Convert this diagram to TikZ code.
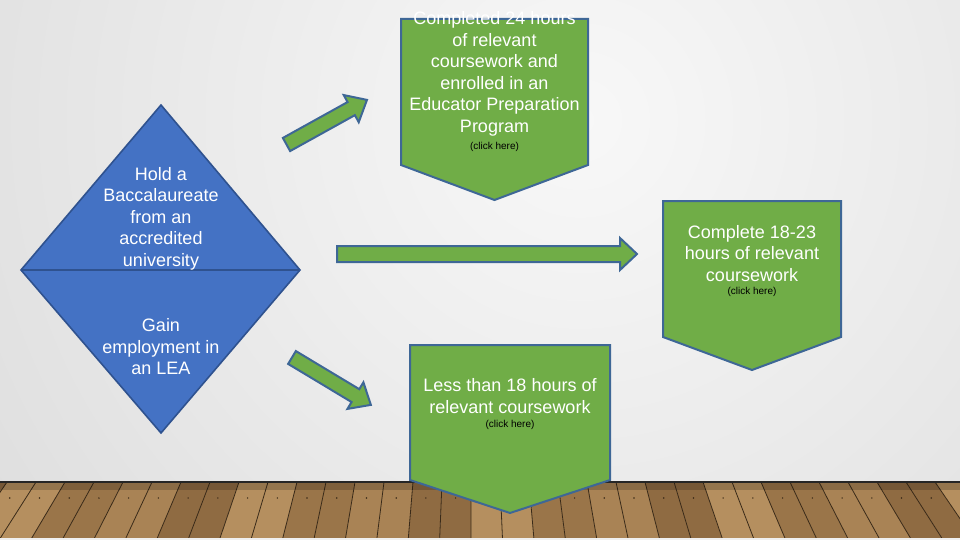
\documentclass[tikz,border=0pt]{standalone}
\usepackage{fontspec}
\setmainfont{Liberation Sans}
\definecolor{gfill}{HTML}{70AD47}
\definecolor{bline}{HTML}{3E6796}
\definecolor{dfill}{HTML}{4472C4}
\definecolor{dline}{HTML}{2F528F}
\definecolor{wallin}{HTML}{F8F8F8}
\definecolor{wallout}{HTML}{D4D4D4}
\definecolor{wood0}{HTML}{A98355}
\definecolor{wood1}{HTML}{9A7549}
\definecolor{wood2}{HTML}{B58F5F}
\definecolor{wood3}{HTML}{8F6B42}
\definecolor{plank}{HTML}{3A2A18}
\begin{document}
\begin{tikzpicture}[x=1pt,y=-1pt,
  boxshape/.style={fill=gfill,draw=bline,line width=2pt,line join=miter},
  blockarrow/.style={fill=gfill,draw=bline,line width=2pt,line join=miter},
  diamondshape/.style={fill=dfill,draw=dline,line width=1.6pt,line join=miter},
  bigtext/.style={text=white,font=\fontsize{18}{21.5}\selectfont,align=center,inner sep=0pt,anchor=north},
  clicktext/.style={text=black,font=\fontsize{10}{11}\selectfont,inner sep=0pt,anchor=base},
  plankline/.style={draw=plank,line width=0.8pt}]
\useasboundingbox (0,0) rectangle (960,540);
% wall
\fill[wallout] (0,0) rectangle (960,540);
\begin{scope}
  \clip (0,0) rectangle (960,482);
  \shade[inner color=wallin, outer color=wallout] (580,120) circle (1000);
\end{scope}
% floor
\foreach \i in {0,...,38} {
  \pgfmathsetmacro\xa{-80+\i*29}
  \pgfmathsetmacro\xb{\xa+29}
  \pgfmathsetmacro\xc{470+(\xa-470)*1.0821}
  \pgfmathsetmacro\xd{470+(\xb-470)*1.0821}
  \pgfmathtruncatemacro\c{mod(\i*3+int(\i/2),4)}
  \fill[wood\c] (\xa,482) -- (\xb,482) -- (\xd,538) -- (\xc,538) -- cycle;
  \draw[plankline] (\xa,482) -- (\xc,538);
  \pgfmathsetmacro\xn{470+(\xa+14-470)*1.025}
  \fill[plank] (\xn,498) circle (0.8);
}
\fill[black,opacity=0.18] (0,482) rectangle (960,490);
\draw[black!85,line width=1.6pt] (0,482) -- (960,482);
\fill[gray!12] (0,538) rectangle (960,540);
% diamond
\draw[diamondshape] (161,105) -- (300,270) -- (161,433) -- (21,270) -- cycle;
\draw[dline,line width=1.6pt] (21,270) -- (300,270);
\node[bigtext] (d1) at (161,164.95) {\strut Hold a\\Baccalaureate\\from an\\accredited\\university};
\node[bigtext] (d2) at (161,316.65) {\strut Gain\\employment in\\an LEA};
% arrows
\begin{scope}[shift={(286.5,144.5)},rotate=29]
  \draw[blockarrow] (0,-7.5) -- (74,-7.5) -- (74,-15.5) -- (92,0) -- (74,15.5) -- (74,7.5) -- (0,7.5) -- cycle;
\end{scope}
\begin{scope}[shift={(337,254)}]
  \draw[blockarrow] (0,-8) -- (283,-8) -- (283,-16) -- (300,0) -- (283,16) -- (283,8) -- (0,8) -- cycle;
\end{scope}
\begin{scope}[shift={(292,357.5)},rotate=-31]
  \draw[blockarrow] (0,-7.5) -- (74,-7.5) -- (74,-15.5) -- (92,0) -- (74,15.5) -- (74,7.5) -- (0,7.5) -- cycle;
\end{scope}
% box 1
\draw[boxshape] (401,19) -- (588,19) -- (588,165) -- (494.5,200) -- (401,165) -- cycle;
\node[bigtext] (b1) at (494.5,9.45) {\strut Completed 24 hours\\of relevant\\coursework and\\enrolled in an\\Educator Preparation\\Program};
\node[clicktext] (c1) at (494.5,150) {(click here)};
% box 2
\draw[boxshape] (663,201) -- (841,201) -- (841,337) -- (752,370) -- (663,337) -- cycle;
\node[bigtext] (b2) at (752,222.95) {\strut Complete 18-23\\hours of relevant\\coursework};
\node[clicktext] (c2) at (752,294) {(click here)};
% box 3
\draw[boxshape] (410,345) -- (610,345) -- (610,480) -- (510,513) -- (410,480) -- cycle;
\node[bigtext] (b3) at (510,376.65) {\strut Less than 18 hours of\\relevant coursework};
\node[clicktext] (c3) at (510,427.3) {(click here)};
\end{tikzpicture}
\end{document}
